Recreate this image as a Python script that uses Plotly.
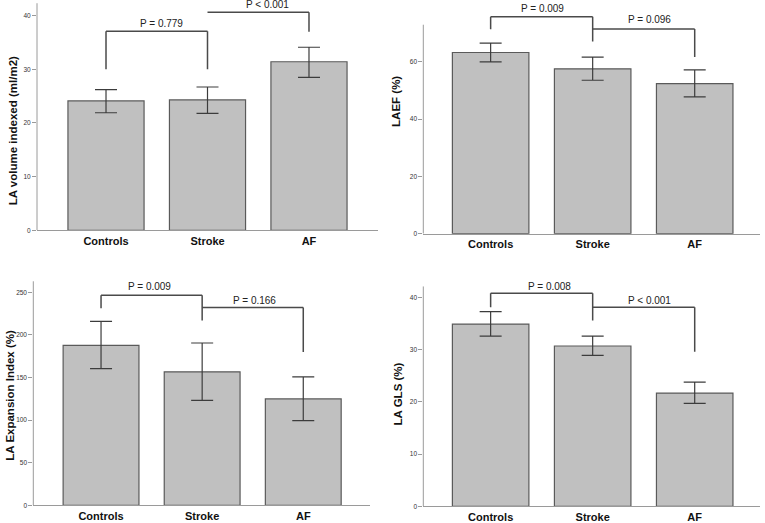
import plotly.graph_objects as go

categories = ["Controls", "Stroke", "AF"]

la_volume = [24.1, 24.3, 31.4]
la_volume_lo = [21.9, 21.8, 28.5]
la_volume_hi = [26.2, 26.7, 34.1]

laef = [63.3, 57.6, 52.4]
laef_lo = [60.0, 53.6, 47.8]
laef_hi = [66.6, 61.7, 57.2]

la_ei = [187.9, 156.7, 124.9]
la_ei_lo = [160.6, 123.2, 99.5]
la_ei_hi = [215.9, 190.6, 150.9]

la_gls = [34.9, 30.7, 21.7]
la_gls_lo = [32.6, 28.9, 19.7]
la_gls_hi = [37.3, 32.6, 23.8]

titles = ["LA volume indexed (ml/m2)", "LAEF (%)", "LA Expansion Index (%)", "LA GLS (%)"]
ticks = [[0, 10, 20, 30, 40], [0, 20, 40, 60], [0, 50, 100, 150, 200, 250], [0, 10, 20, 30, 40]]

# brackets: (left, right, top, left_leg_bottom, right_leg_bottom, label, label_x, label_y)
brackets = [
    [(0, 1, 37.1, 30.0, 30.0, "P = 0.779", 0.55, 38.6),
     (1, 2, 40.6, 40.6, 37.0, "P < 0.001", 1.59, 42.1)],
    [(0, 1, 75.8, 71.4, 67.1, "P = 0.009", 0.51, 78.7),
     (1, 2, 71.5, 71.5, 61.7, "P = 0.096", 1.56, 74.7)],
    [(0, 1, 246.6, 231.4, 217.0, "P = 0.009", 0.48, 256.7),
     (1, 2, 232.2, 232.2, 180.0, "P = 0.166", 1.52, 241.0)],
    [(0, 1, 40.8, 38.1, 35.6, "P = 0.008", 0.58, 42.0),
     (1, 2, 38.1, 38.1, 29.6, "P < 0.001", 1.56, 39.5)],
]

W, H = 765, 523
# pixel layout per panel: (x_left, x_right, y_bottom_px, y_top_px, y_range_top, axis_line_top, x_range)
panels = [
    (37.0, 378.0, 231.7, 0.0, 42.9, 42.3, [-0.68, 2.68]),
    (423.3, 760.0, 235.0, 5.0, 79.9, 73.0, [-0.66, 2.64]),
    (33.3, 370.0, 508.3, 265.0, 283.9, 263.0, [-0.67, 2.66]),
    (423.3, 760.0, 509.3, 265.0, 46.5, 42.1, [-0.66, 2.64]),
]
# y-title centre positions in pixels (x, y)
title_pos = [(12.5, 131.5), (396.5, 102.0), (10.5, 397.5), (398.0, 396.7)]

series = [
    (la_volume, la_volume_lo, la_volume_hi),
    (laef, laef_lo, laef_hi),
    (la_ei, la_ei_lo, la_ei_hi),
    (la_gls, la_gls_lo, la_gls_hi),
]

fig = go.Figure()
shapes = []
annotations = []
line_col = "#4a4a4a"
font_fam = "Liberation Sans, Arial, sans-serif"

for i, ((vals, lo, hi), (xl, xr, yb, yt, ytop, atop, xr_rng)) in enumerate(zip(series, panels)):
    n = i + 1
    xa = "x" if n == 1 else f"x{n}"
    ya = "y" if n == 1 else f"y{n}"
    fig.add_trace(go.Bar(
        x=categories, y=vals, xaxis=xa, yaxis=ya, width=0.75,
        marker=dict(color="#c0c0c0", line=dict(color="#5a5a5a", width=1.2)),
        error_y=dict(type="data", symmetric=False,
                     array=[h - v for h, v in zip(hi, vals)],
                     arrayminus=[v - l for v, l in zip(vals, lo)],
                     color="#3c3c3c", thickness=1.2, width=11),
        showlegend=False, hoverinfo="skip",
    ))
    xkey = "xaxis" if n == 1 else f"xaxis{n}"
    ykey = "yaxis" if n == 1 else f"yaxis{n}"
    fig.layout[xkey] = dict(
        domain=[xl / W, xr / W], anchor=ya, range=xr_rng, type="category",
        showline=True, linecolor="#9a9a9a", linewidth=1, ticks="", showgrid=False,
        tickfont=dict(family=font_fam, size=11, color="#111", weight="bold"),
        fixedrange=True,
    )
    fig.layout[ykey] = dict(
        domain=[1 - yb / H, 1 - yt / H], anchor=xa, range=[0, ytop],
        showline=False, showgrid=False, zeroline=False,
        tickvals=ticks[i], ticks="outside", ticklen=4, tickcolor="#9a9a9a",
        tickfont=dict(family=font_fam, size=6.5, color="#333"),
        fixedrange=True,
    )
    tx, ty = title_pos[i]
    annotations.append(dict(xref="paper", yref="paper", x=tx / W, y=1 - ty / H, text=titles[i],
                            showarrow=False, textangle=-90, xanchor="center", yanchor="middle",
                            font=dict(family=font_fam, size=11.5, color="#111", weight="bold")))
    # y axis line up to its last tick region
    shapes.append(dict(type="line", xref=f"{xa} domain", yref=ya, x0=0, x1=0, y0=0, y1=atop,
                       line=dict(color="#9a9a9a", width=1)))
    for (a, b, top, lleg, rleg, label, lx, ly) in brackets[i]:
        shapes.append(dict(type="line", xref=xa, yref=ya, x0=a, x1=b, y0=top, y1=top,
                           line=dict(color=line_col, width=1.5)))
        shapes.append(dict(type="line", xref=xa, yref=ya, x0=a, x1=a, y0=lleg, y1=top,
                           line=dict(color=line_col, width=1.5)))
        shapes.append(dict(type="line", xref=xa, yref=ya, x0=b, x1=b, y0=rleg, y1=top,
                           line=dict(color=line_col, width=1.5)))
        annotations.append(dict(xref=xa, yref=ya, x=lx, y=ly, text=label, showarrow=False,
                                font=dict(family=font_fam, size=10, color="#222"),
                                xanchor="center", yanchor="middle"))

fig.update_layout(
    width=W, height=H, margin=dict(l=0, r=0, t=0, b=0),
    paper_bgcolor="white", plot_bgcolor="white",
    shapes=shapes, annotations=annotations, bargap=0.25,
)

fig.write_html("out.html", config={"displayModeBar": False},
               post_script="document.body.style.margin='0px';document.body.style.overflow='hidden';")
